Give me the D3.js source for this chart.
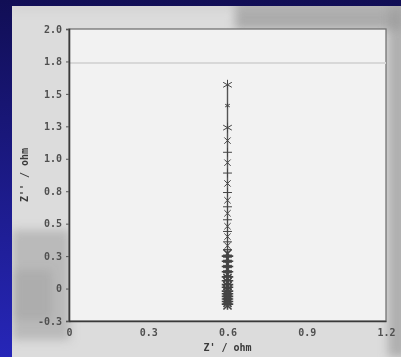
<!DOCTYPE html>
<html>
<head>
<meta charset="utf-8">
<script src="https://cdn.jsdelivr.net/npm/d3@7"></script>
<style>
  html, body { margin: 0; padding: 0; background: #1a1880; }
  svg { display: block; }
</style>
</head>
<body>
<script>
// impedance plot, all points sit at Z' = 0.6 ohm
var zReal = 0.6;
var zImag = [1.57, 1.41, 1.24, 1.14, 1.05, 0.97, 0.89, 0.81, 0.74, 0.68, 0.63, 0.58,
             0.53, 0.48, 0.44, 0.40, 0.36, 0.33, 0.30, 0.27, 0.25, 0.23, 0.21, 0.19,
             0.17, 0.15, 0.13, 0.11, 0.09, 0.08, 0.06, 0.05, 0.03, 0.02, 0.01, -0.01,
             -0.02, -0.03, -0.04, -0.05, -0.06, -0.07, -0.08, -0.09, -0.10, -0.11,
             -0.12, -0.13];
var starCount = 3;

var xTicks = [0, 0.3, 0.6, 0.9, 1.2];
var xTickLabels = ['0', '0.3', '0.6', '0.9', '1.2'];
var yTicks = [-0.25, 0, 0.25, 0.5, 0.75, 1.0, 1.25, 1.5, 1.75, 2.0];
var yTickLabels = ['-0.3', '0', '0.3', '0.5', '0.8', '1.0', '1.3', '1.5', '1.8', '2.0'];

var width = 401, height = 357;
var plot = { left: 69, top: 29, right: 386, bottom: 321 };

var svg = d3.select('body').append('svg').attr('width', width).attr('height', height);
var defs = svg.append('defs');

var bg = defs.append('linearGradient').attr('id', 'bluebg')
  .attr('x1', 0).attr('y1', 0).attr('x2', 0).attr('y2', 1);
bg.append('stop').attr('offset', 0).attr('stop-color', '#110e55');
bg.append('stop').attr('offset', 1).attr('stop-color', '#2626b8');

defs.append('filter').attr('id', 'soft')
  .attr('x', '-20%').attr('y', '-20%').attr('width', '140%').attr('height', '140%')
  .append('feGaussianBlur').attr('stdDeviation', 5);
defs.append('clipPath').attr('id', 'page')
  .append('rect').attr('x', 12).attr('y', 6).attr('width', width - 12).attr('height', height - 6);

// blue slide background and scanned page
svg.append('rect').attr('width', width).attr('height', height).attr('fill', 'url(#bluebg)');
svg.append('rect').attr('x', 12).attr('y', 6).attr('width', width - 12).attr('height', height - 6)
  .attr('fill', '#dcdcdc');

// scan smudges
var smudges = [
  [235, 0, 170, 30, '#8c8c8c', 0.6],
  [12, 230, 58, 110, '#a4a4a4', 0.6],
  [12, 270, 40, 50, '#9a9a9a', 0.4],
  [388, 0, 20, 357, '#9c9c9c', 0.7],
  [12, 5, 389, 4, '#c0c0c0', 0.6]
];
svg.append('g').attr('clip-path', 'url(#page)')
  .append('g').attr('filter', 'url(#soft)')
  .selectAll('rect').data(smudges).enter().append('rect')
  .attr('x', function (d) { return d[0]; }).attr('y', function (d) { return d[1]; })
  .attr('width', function (d) { return d[2]; }).attr('height', function (d) { return d[3]; })
  .attr('fill', function (d) { return d[4]; }).attr('opacity', function (d) { return d[5]; });

var x = d3.scaleLinear().domain([0, 1.2]).range([plot.left, plot.right]);
var y = d3.scaleLinear().domain([-0.25, 2.0]).range([plot.bottom, plot.top]);

// plot area
svg.append('rect')
  .attr('x', plot.left).attr('y', plot.top)
  .attr('width', plot.right - plot.left).attr('height', plot.bottom - plot.top)
  .attr('fill', '#f2f2f2').attr('stroke', '#6a6a6a').attr('stroke-width', 1.2);
svg.append('rect').attr('x', plot.left).attr('y', 62).attr('width', plot.right - plot.left)
  .attr('height', 2).attr('fill', '#d8d8d8');

var tickFont = 'DejaVu Sans Mono, monospace';

var yAxis = svg.append('g').attr('transform', 'translate(' + plot.left + ',0)')
  .call(d3.axisLeft(y).tickValues(yTicks).tickSize(3).tickPadding(4)
    .tickFormat(function (d, i) { return yTickLabels[i]; }));
var xAxis = svg.append('g').attr('transform', 'translate(0,' + plot.bottom + ')')
  .call(d3.axisBottom(x).tickValues(xTicks).tickSize(0).tickPadding(8)
    .tickFormat(function (d, i) { return xTickLabels[i]; }));

[yAxis, xAxis].forEach(function (a) {
  a.select('.domain').attr('stroke', '#3a3a3a').attr('stroke-width', 1.6);
  a.selectAll('.tick line').attr('stroke', '#555');
  a.selectAll('.tick text').attr('fill', '#505050')
    .style('font-family', tickFont).style('font-size', '10px').style('font-weight', 'bold');
});

// axis titles
svg.append('text')
  .attr('x', x(0.6)).attr('y', 351)
  .attr('text-anchor', 'middle')
  .style('font-family', tickFont).style('font-size', '10px').style('font-weight', 'bold')
  .attr('fill', '#3a3a3a')
  .text("Z' / ohm");
svg.append('text')
  .attr('transform', 'translate(28,' + 175 + ') rotate(-90)')
  .attr('text-anchor', 'middle')
  .style('font-family', tickFont).style('font-size', '10px').style('font-weight', 'bold')
  .attr('fill', '#3a3a3a')
  .text("Z'' / ohm");

// connecting line
var line = d3.line()
  .x(function () { return x(zReal); })
  .y(function (d) { return y(d); });
svg.append('path').datum(zImag)
  .attr('d', line)
  .attr('fill', 'none').attr('stroke', '#555').attr('stroke-width', 1.4);

// markers
svg.selectAll('path.pt').data(zImag).enter().append('path')
  .attr('class', 'pt')
  .attr('transform', function (d) { return 'translate(' + x(zReal) + ',' + y(d) + ')'; })
  .attr('d', function (d, i) {
    if (i < starCount) return d3.symbol().type(d3.symbolAsterisk).size(i === 1 ? 20 : 70)();
    return d3.symbol().type(i % 2 ? d3.symbolTimes : d3.symbolPlus).size(d < 0.3 ? 45 : 28)();
  })
  .attr('fill', 'none').attr('stroke', '#444')
  .attr('stroke-width', function (d) { return d < 0.3 ? 1.6 : 1; });
</script>
</body>
</html>
